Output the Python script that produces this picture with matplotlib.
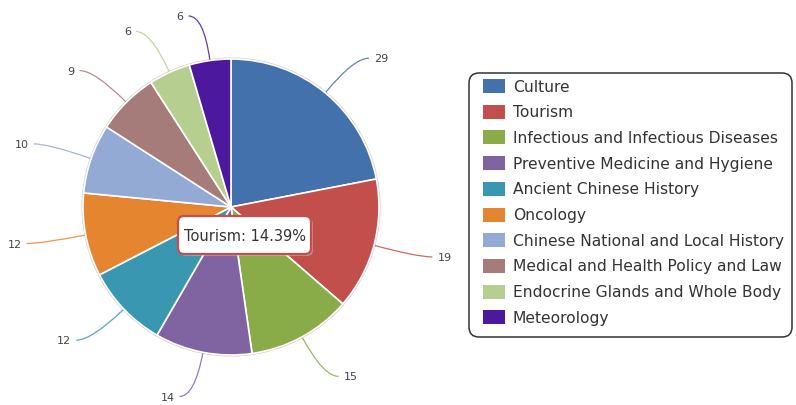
import numpy as np
import matplotlib.pyplot as plt
from matplotlib.patches import FancyBboxPatch, Rectangle, PathPatch
from matplotlib.path import Path

# Subject categories and their counts
categories = ['Culture', 'Tourism', 'Infectious and Infectious Diseases',
              'Preventive Medicine and Hygiene', 'Ancient Chinese History',
              'Oncology', 'Chinese National and Local History',
              'Medical and Health Policy and Law',
              'Endocrine Glands and Whole Body', 'Meteorology']
counts = [29, 19, 15, 14, 12, 12, 10, 9, 6, 6]
colors = ['#4271AC', '#C24F4C', '#8AAC48', '#8064A2', '#3A97B1',
          '#E5852F', '#93AAD4', '#A57C7A', '#B6CF90', '#4C189E']
highlight = 'Tourism'

W, H = 796, 406
fig = plt.figure(figsize=(W / 100, H / 100), dpi=100)
ax = fig.add_axes([0, 0, 1, 1])

cx, cy, r = 231, 198, 148
wedges, _ = ax.pie(counts, colors=colors, startangle=90, counterclock=False,
                   center=(cx, cy), radius=r, frame=True,
                   wedgeprops=dict(edgecolor='white', linewidth=1.2))
ax.set_xlim(0, W)
ax.set_ylim(0, H)
ax.set_aspect('equal')
ax.axis('off')

# faint outline round the pie
ax.add_patch(plt.Circle((cx, cy), r + 0.8, facecolor='none',
                        edgecolor='#D8C8CC', lw=1.0, zorder=0.5))

# data labels with soft connectors
for w, val, col in zip(wedges, counts, colors):
    th = np.deg2rad((w.theta1 + w.theta2) / 2)
    c, s = np.cos(th), np.sin(th)
    side = 1 if c >= 0 else -1
    p0 = (cx + (r + 1) * c, cy + (r + 1) * s)
    p1 = (cx + (r + 45) * c, cy + (r + 45) * s)
    p2 = (p1[0] + side * 15, p1[1])
    path = Path([p0, p1, p2], [Path.MOVETO, Path.CURVE3, Path.CURVE3])
    ax.add_patch(PathPatch(path, facecolor='none', edgecolor=col, lw=0.9,
                           alpha=0.85))
    ax.text(p2[0] + side * 5, p2[1], str(val), fontsize=8, color='#444444',
            ha='left' if side > 0 else 'right', va='center',
            family='DejaVu Sans')

# tooltip
pct = counts[categories.index(highlight)] / sum(counts) * 100
tip_col = colors[categories.index(highlight)]
ax.add_patch(FancyBboxPatch((180, 149), 133, 38,
                            boxstyle='round,pad=0,rounding_size=6',
                            facecolor='#CCCCCC', edgecolor='none', alpha=0.5,
                            zorder=4))
ax.add_patch(FancyBboxPatch((178, 151), 133, 38,
                            boxstyle='round,pad=0,rounding_size=6',
                            facecolor='white', edgecolor=tip_col, lw=1.6,
                            zorder=5))
ax.text(244.5, 169.5, f'{highlight}: {pct:.2f}%', fontsize=10.5,
        color='#333333', ha='center', va='center', zorder=6,
        family='DejaVu Sans')

# legend box
ax.add_patch(FancyBboxPatch((469, 68), 323, 264,
                            boxstyle='round,pad=0,rounding_size=10',
                            facecolor='white', edgecolor='#333333', lw=1.1))
top = 319
step = 25.7
for i, (name, col) in enumerate(zip(categories, colors)):
    y = top - i * step
    ax.add_patch(Rectangle((483, y - 7), 22, 14, facecolor=col,
                           edgecolor='none'))
    ax.text(513, y, name, fontsize=11.2, color='#333333', ha='left',
            va='center', family='DejaVu Sans')

fig.savefig('out.png', dpi=100)
